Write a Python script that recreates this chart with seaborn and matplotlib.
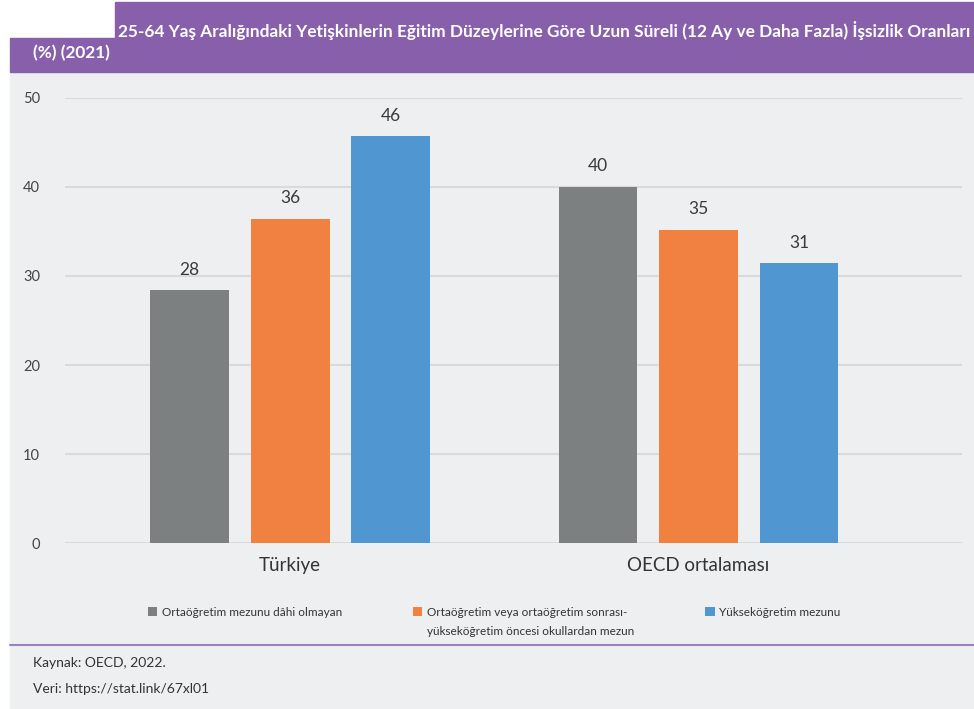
import pandas as pd
import matplotlib.pyplot as plt
import seaborn as sns
from matplotlib.patches import Rectangle
from matplotlib.lines import Line2D

# Data
countries = ["Türkiye", "OECD ortalaması"]
levels = [
    "Ortaöğretim mezunu dâhi olmayan",
    "Ortaöğretim veya ortaöğretim sonrası-\nyükseköğretim öncesi okullardan mezun",
    "Yükseköğretim mezunu",
]
rate_below_upper_secondary = [28.4, 40.0]
rate_upper_secondary = [36.4, 35.2]
rate_tertiary = [45.7, 31.4]
y_ticks = [0, 10, 20, 30, 40, 50]

title_line1 = ("25-64 Yaş Aralığındaki Yetişkinlerin Eğitim Düzeylerine Göre Uzun Süreli "
               "(12 Ay ve Daha Fazla) İşsizlik Oranları")
title_line2 = "(%) (2021)"
source_lines = ["Kaynak: OECD, 2022.", "Veri: https://stat.link/67xl01"]

colors = ["#7d8080", "#f08140", "#5097d2"]
purple = "#875fab"
bg = "#eeeff1"

df = pd.DataFrame({
    "country": countries * 3,
    "level": [lv for lv in levels for _ in countries],
    "rate": rate_below_upper_secondary + rate_upper_secondary + rate_tertiary,
})

sns.set_theme(style="white")
plt.rcParams["font.family"] = ["Lato", "DejaVu Sans"]

W, H = 974, 709
fig = plt.figure(figsize=(W / 100, H / 100), dpi=100)
fig.patch.set_facecolor("white")

# -------- BACKGROUND PANELS --------
fig.patches.append(Rectangle((10 / W, 0), 1, 1 - 72 / H, transform=fig.transFigure,
                             color=bg, zorder=-5))
fig.patches.append(Rectangle((10 / W, 1 - 72 / H), 1, 34 / H, transform=fig.transFigure,
                             color=purple, zorder=-5))
fig.patches.append(Rectangle((115 / W, 1 - 38 / H), 1, 36 / H, transform=fig.transFigure,
                             color=purple, zorder=-5))

# -------- BAR CHART --------
ax = fig.add_axes([65 / W, 1 - 543.3 / H, (962 - 65) / W, (543.3 - 97.7) / H])
ax.patch.set_visible(False)
sns.barplot(data=df, x="country", y="rate", hue="level", palette=colors,
            saturation=1, width=0.738, gap=0.215, errorbar=None, linewidth=0, ax=ax)

for cont in ax.containers:
    ax.bar_label(cont, fmt="%.0f", padding=9, fontsize=12.5, color="#3a3a3a")

ax.set_ylim(0, 50)
ax.set_yticks(y_ticks)
ax.set_xlim(-0.551, 1.645)
ax.yaxis.grid(True, color="#d9dadc", lw=1.5)
ax.set_axisbelow(True)
sns.despine(ax=ax, left=True, bottom=True)
ax.tick_params(axis="y", length=0, pad=18, labelsize=10.5, labelcolor="#444444")
ax.tick_params(axis="x", length=0, pad=10, labelsize=13.5, labelcolor="#333333")
ax.set_xlabel("")
ax.set_ylabel("")

# -------- LEGEND --------
handles, labels = ax.get_legend_handles_labels()
ax.get_legend().remove()
leg = fig.legend(handles, labels, ncol=3, frameon=False, fontsize=8.5,
                 labelcolor="#333333", handlelength=0.8, handleheight=0.8,
                 handletextpad=0.4, columnspacing=6.0,
                 loc="upper left", bbox_to_anchor=(137 / W, 1 - 596 / H))
for t in leg.get_texts():
    t.set_linespacing(1.9)
# keep markers on the first text line and columns aligned at the top
leg._legend_handle_box.align = "top"
for col in leg._legend_handle_box.get_children():
    col.align = "top"
    for item in col.get_children():
        item.align = "top"

# -------- TITLE AND SOURCE --------
fig.text(118 / W, 1 - 31 / H, title_line1, color="white", fontsize=12.4,
         fontweight="bold", va="center", ha="left")
fig.text(33 / W, 1 - 53 / H, title_line2, color="white", fontsize=12.4,
         fontweight="bold", va="center", ha="left")

fig.add_artist(Line2D([10 / W, 1], [1 - 645 / H] * 2, transform=fig.transFigure,
                      color="#9b80c0", lw=1.5))
fig.text(33 / W, 1 - 663 / H, source_lines[0], fontsize=10, color="#333333", va="center")
fig.text(33 / W, 1 - 689 / H, source_lines[1], fontsize=10, color="#333333", va="center")

fig.savefig("out.png", dpi=100)
plt.close(fig)
